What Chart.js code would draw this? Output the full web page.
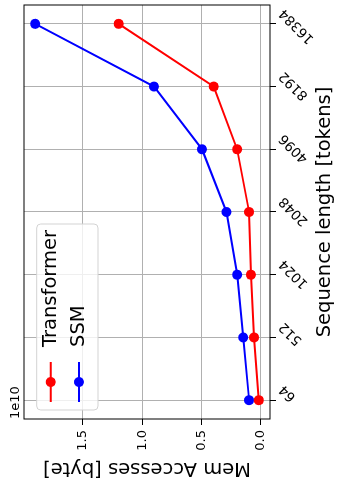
<!DOCTYPE html>
<html lang="en">
<head>
<meta charset="UTF-8">
<title>Mem accesses vs sequence length</title>
<script src="https://cdn.jsdelivr.net/npm/chart.js@4"></script>
<style>
  html, body { margin: 0; padding: 0; background: #fff; overflow: hidden; }
  body { width: 337px; height: 489px; position: relative; }
  /* the figure is drawn landscape and turned a quarter turn to the left */
  #wrap { position: absolute; left: 0; top: 0; width: 489px; height: 337px;
          transform-origin: 0 0; transform: translate(0, 489px) rotate(-90deg); }
</style>
</head>
<body>
<div id="wrap"><canvas id="chart" width="489" height="337"></canvas></div>
<script>
const seqLabels = ['64', '512', '1024', '2048', '4096', '8192', '16384'];
const transformerMem = [0.017e10, 0.057e10, 0.084e10, 0.099e10, 0.2e10, 0.397e10, 1.199e10];
const ssmMem = [0.099e10, 0.149e10, 0.2e10, 0.29e10, 0.496e10, 0.901e10, 1.903e10];
const yScale = 1e10;   // axis is shown in units of 1e10 bytes

Chart.defaults.font.family = '"DejaVu Sans", sans-serif';
Chart.defaults.color = '#000';

const pts = arr => arr.map((v, i) => ({x: i, y: v / yScale}));

// matplotlib style legend box inside the axes, drawn over everything
const legendBox = {
  id: 'legendBox',
  afterDatasetsDraw(chart) {
    const {ctx, chartArea: a} = chart;
    const sets = chart.data.datasets;
    ctx.save();
    // spines
    ctx.strokeStyle = '#000';
    ctx.lineWidth = 1;
    ctx.strokeRect(a.left, a.top, a.right - a.left, a.bottom - a.top);

    ctx.font = '19.5px "DejaVu Sans"';
    const textX = a.left + 72;
    const w = Math.max(...sets.map(d => ctx.measureText(d.label).width));
    const x0 = a.left + 9, y0 = a.top + 12.7;
    const x1 = textX + w + 6, y1 = a.top + 74;
    ctx.beginPath();
    if (ctx.roundRect) ctx.roundRect(x0, y0, x1 - x0, y1 - y0, 4);
    else ctx.rect(x0, y0, x1 - x0, y1 - y0);
    ctx.fillStyle = 'rgba(255,255,255,0.8)';
    ctx.fill();
    ctx.strokeStyle = '#d3d3d3';
    ctx.stroke();

    sets.forEach((d, i) => {
      const y = a.top + 26.7 + i * 28.3;
      ctx.strokeStyle = d.borderColor;
      ctx.lineWidth = d.borderWidth;
      ctx.beginPath();
      ctx.moveTo(a.left + 17, y);
      ctx.lineTo(a.left + 57, y);
      ctx.stroke();
      ctx.fillStyle = d.pointBackgroundColor;
      ctx.beginPath();
      ctx.arc(a.left + 37, y, d.pointRadius, 0, Math.PI * 2);
      ctx.fill();
      ctx.fillStyle = '#000';
      ctx.textBaseline = 'middle';
      ctx.fillText(d.label, textX, y);
    });
    ctx.restore();
  }
};

const gridOpts = { color: '#b0b0b0', lineWidth: 1, tickColor: '#000', tickLength: 6, tickWidth: 1 };

new Chart(document.getElementById('chart'), {
  type: 'line',
  data: {
    datasets: [
      {
        label: 'Transformer',
        data: pts(transformerMem),
        borderColor: 'red',
        backgroundColor: 'red',
        pointBackgroundColor: 'red',
        pointBorderWidth: 0,
        pointRadius: 5,
        borderWidth: 2,
        tension: 0
      },
      {
        label: 'SSM',
        data: pts(ssmMem),
        borderColor: 'blue',
        backgroundColor: 'blue',
        pointBackgroundColor: 'blue',
        pointBorderWidth: 0,
        pointRadius: 5,
        borderWidth: 2,
        tension: 0
      }
    ]
  },
  options: {
    responsive: false,
    animation: false,
    events: [],
    layout: { padding: { left: 0, right: 2, top: 0, bottom: 0 } },
    scales: {
      x: {
        type: 'linear',
        min: -0.3,
        max: 6.3,
        afterFit: s => { s.height = 67; },
        grid: gridOpts,
        border: { display: false },
        ticks: {
          stepSize: 1,
          includeBounds: false,
          autoSkip: false,
          minRotation: 45,
          maxRotation: 45,
          labelOffset: 13,
          padding: 0,
          font: { size: 13.5 },
          callback: v => seqLabels[v]
        },
        title: {
          display: true,
          text: 'Sequence length [tokens]',
          font: { size: 19.5 },
          padding: { top: 0, bottom: 0 }
        }
      },
      y: {
        type: 'linear',
        min: -0.077,
        max: 1.997,
        afterFit: s => { s.width = 70; },
        grid: gridOpts,
        border: { display: false },
        ticks: {
          stepSize: 0.5,
          includeBounds: false,
          padding: 5,
          font: { size: 13 },
          callback: v => v.toFixed(1)
        },
        title: {
          display: true,
          text: 'Mem Accesses [byte]',
          font: { size: 19.5 },
          padding: { top: 8.8, bottom: 0 }
        }
      }
    },
    plugins: {
      legend: { display: false },
      tooltip: { enabled: false },
      title: {
        display: true,
        text: '1e10',
        align: 'start',
        fullSize: false,
        font: { size: 13, weight: 'normal', lineHeight: 1.2 },
        padding: { top: 7.4, bottom: 1 }
      }
    }
  },
  plugins: [legendBox]
});
</script>
</body>
</html>
